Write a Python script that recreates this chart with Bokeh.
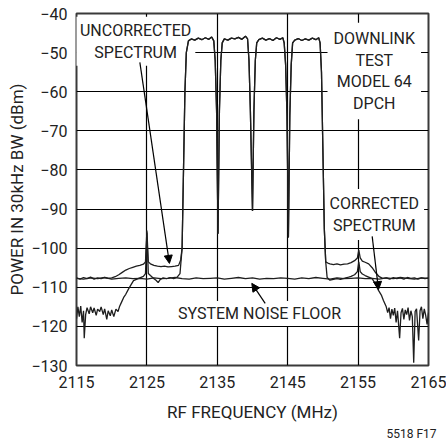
from bokeh.plotting import figure
from bokeh.models import Label, Arrow, NormalHead, Range1d, FixedTicker, Title
from bokeh.embed import file_html
from bokeh.resources import INLINE

FONT = "Roboto"
INK = "#1e1e1e"

# ---- axes / ticks ----
x_ticks = [2115, 2125, 2135, 2145, 2155, 2165]
x_tick_labels = ["2115", "2125", "2135", "2145", "2155", "2165"]
y_ticks = [-130, -120, -110, -100, -90, -80, -70, -60, -50, -40]
y_tick_labels = ["\u2212130", "\u2212120", "\u2212110", "\u2212100", "\u221290",
                 "\u221280", "\u221270", "\u221260", "\u221250", "\u221240"]

# ---- shared 4-carrier WCDMA block (MHz, dBm) ----
carrier_f = [2130.0, 2130.2, 2130.4, 2130.6, 2130.9, 2131.3, 2131.8, 2132.3, 2132.8, 2133.3,
             2133.8, 2134.2, 2134.5, 2134.7, 2134.9, 2135.1, 2135.3, 2135.5, 2135.7, 2136.0,
             2136.5, 2137.0, 2137.5, 2138.0, 2138.5, 2139.0, 2139.3, 2139.5, 2139.7, 2140.0,
             2140.2, 2140.4, 2140.6, 2140.9, 2141.4, 2141.9, 2142.4, 2142.9, 2143.4, 2143.9,
             2144.3, 2144.5, 2144.7, 2144.9, 2145.1, 2145.3, 2145.5, 2145.7, 2146.0, 2146.5,
             2147.0, 2147.5, 2148.0, 2148.5, 2149.0, 2149.4, 2149.6, 2149.8, 2150.0, 2150.2,
             2150.4]
carrier_db = [-100.0, -80.0, -60.0, -50.0, -47.0, -46.5, -46.8, -46.3, -46.7, -46.2,
              -46.6, -46.0, -47.0, -52.0, -65.0, -96.3, -65.0, -52.0, -47.5, -46.5,
              -46.8, -46.3, -46.5, -46.1, -46.6, -45.8, -46.5, -52.0, -65.0, -90.5,
              -65.0, -52.0, -47.5, -46.7, -46.3, -46.8, -46.4, -46.9, -46.2, -46.6,
              -46.2, -47.5, -53.0, -66.0, -97.3, -66.0, -53.0, -47.5, -46.8, -46.4,
              -46.9, -46.5, -46.8, -46.3, -46.7, -46.2, -47.5, -55.0, -75.0, -95.0,
              -103.5]

# ---- uncorrected spectrum ----
unc_left_f = [2115.0, 2115.5, 2116.0, 2116.5, 2117.0, 2117.5, 2118.0, 2118.5, 2119.0, 2119.5,
              2120.0, 2120.5, 2121.0, 2121.5, 2122.0, 2122.5, 2123.0, 2123.5, 2124.0, 2124.5,
              2124.8, 2125.0, 2125.2, 2125.5, 2126.0, 2126.5, 2127.0, 2127.5, 2128.0, 2128.5,
              2129.0, 2129.5, 2129.8]
unc_left_db = [-107.6, -107.9, -107.5, -107.8, -107.4, -107.9, -107.6, -107.8, -107.5, -107.7,
               -107.6, -107.3, -106.8, -106.2, -105.6, -105.2, -104.9, -104.6, -104.4, -104.1,
               -103.5, -95.5, -103.5, -104.0, -104.4, -104.6, -104.7, -104.6, -104.8, -104.7,
               -104.6, -104.4, -103.0]
unc_right_f = [2150.7, 2151.0, 2151.5, 2152.0, 2152.5, 2153.0, 2153.5, 2154.0, 2154.5, 2154.9,
               2155.1, 2155.3, 2155.6, 2156.0, 2156.5, 2157.0, 2157.5, 2158.0, 2158.5, 2159.0,
               2159.5, 2160.0, 2160.5, 2161.0, 2161.5, 2162.0, 2162.5, 2163.0, 2163.5, 2164.0,
               2164.5, 2165.0]
unc_right_db = [-103.8, -104.0, -104.2, -104.0, -104.3, -104.1, -104.0, -103.7, -103.2, -102.5,
                -100.5, -102.5, -103.3, -103.6, -104.0, -105.0, -106.3, -107.3, -107.7, -107.6,
                -107.9, -107.5, -107.8, -107.6, -107.9, -107.5, -107.7, -107.6, -107.9, -107.6,
                -107.8, -107.6]

# ---- corrected spectrum ----
cor_left_f = [2115.0, 2115.2, 2115.4, 2115.6, 2115.8, 2116.0, 2116.1, 2116.3, 2116.5, 2116.8,
              2117.0, 2117.3, 2117.5, 2117.8, 2118.0, 2118.3, 2118.5, 2118.8, 2119.0, 2119.3,
              2119.5, 2119.8, 2120.0, 2120.3, 2120.6, 2120.9, 2121.1, 2121.4, 2121.7, 2122.0,
              2122.4, 2122.8, 2123.1, 2123.5, 2124.0, 2124.5, 2124.8, 2125.0, 2125.2, 2125.5,
              2126.0, 2126.3, 2126.6, 2126.9, 2127.3, 2127.8, 2128.3, 2128.8, 2129.3, 2129.7]
cor_left_db = [-118.0, -115.0, -117.5, -114.8, -119.0, -116.0, -123.0, -117.0, -115.2, -116.8,
               -115.0, -116.5, -115.3, -117.2, -115.6, -116.2, -115.0, -117.0, -115.5, -118.2,
               -116.0, -117.3, -115.8, -117.5, -115.6, -116.2, -115.0, -113.8, -112.6, -111.8,
               -110.4, -109.2, -108.3, -108.0, -107.6, -107.2, -106.5, -96.0, -106.5, -107.0,
               -107.8, -108.2, -108.8, -108.0, -107.6, -107.8, -107.5, -107.8, -107.4, -106.5]
cor_right_f = [2150.6, 2151.0, 2151.5, 2152.0, 2152.5, 2153.0, 2153.5, 2154.0, 2154.5, 2154.9,
               2155.1, 2155.3, 2155.6, 2156.0, 2156.5, 2157.0, 2157.4, 2157.9, 2158.3, 2158.6,
               2159.0, 2159.2, 2159.4, 2159.6, 2159.8, 2160.0, 2160.2, 2160.4, 2160.6, 2160.9,
               2161.1, 2161.3, 2161.5, 2161.7, 2161.9, 2162.1, 2162.3, 2162.5, 2162.7, 2162.9,
               2163.1, 2163.3, 2163.6, 2163.8, 2164.0, 2164.2, 2164.4, 2164.6, 2164.8, 2165.0]
cor_right_db = [-107.5, -108.2, -108.0, -107.8, -108.0, -107.7, -107.5, -107.2, -106.8, -106.0,
                -103.5, -106.0, -106.6, -107.0, -107.4, -107.8, -109.0, -110.8, -112.0, -113.4,
                -115.0, -116.5, -115.2, -118.0, -115.6, -117.2, -115.3, -119.0, -116.0, -123.0,
                -116.5, -115.4, -118.2, -115.8, -117.0, -115.2, -118.5, -116.0, -117.5, -129.3,
                -116.2, -115.5, -123.6, -116.0, -115.0, -118.0, -115.5, -117.2, -119.5, -116.5]

# ---- system noise floor ----
noise_f = [2115, 2116, 2117, 2118, 2119, 2120, 2121, 2122, 2123, 2124,
           2125, 2126, 2127, 2128, 2129, 2130, 2131, 2132, 2133, 2134,
           2135, 2136, 2137, 2138, 2139, 2140, 2141, 2142, 2143, 2144,
           2145, 2146, 2147, 2148, 2149, 2150, 2151, 2152, 2153, 2154,
           2155, 2156, 2157, 2158, 2159, 2160, 2161, 2162, 2163, 2164, 2165]
noise_db = [-107.7, -107.9, -107.6, -107.8, -107.5, -107.9, -107.7, -107.6, -107.8, -107.7,
            -107.9, -107.6, -107.8, -107.7, -107.5, -107.8, -107.9, -107.6, -107.8, -107.7,
            -107.6, -107.9, -107.7, -107.5, -107.8, -107.6, -107.9, -107.7, -107.8, -107.6,
            -107.7, -107.9, -107.6, -107.8, -107.5, -107.7, -107.9, -107.6, -107.8, -107.7,
            -107.6, -107.8, -107.7, -107.9, -107.6, -107.8, -107.5, -107.7, -107.9, -107.6, -107.7]

uncorrected_f = unc_left_f + carrier_f + unc_right_f
uncorrected_db = unc_left_db + carrier_db + unc_right_db
corrected_f = cor_left_f + carrier_f + cor_right_f
corrected_db = cor_left_db + carrier_db + cor_right_db

p = figure(width=446, height=442, output_backend="svg", toolbar_location=None,
           x_range=Range1d(2115, 2165), y_range=Range1d(-130, -40),
           min_border_left=76, min_border_right=18, min_border_top=13, min_border_bottom=77,
           background_fill_color="white", border_fill_color="white")

p.outline_line_color = "#3a3a3a"
p.outline_line_width = 2

for g, t in ((p.xgrid, x_ticks), (p.ygrid, y_ticks)):
    g.ticker = FixedTicker(ticks=t)
    g.grid_line_color = "black"
    g.grid_line_width = 1.2
    g.grid_line_alpha = 1.0

p.xaxis.ticker = FixedTicker(ticks=x_ticks)
p.yaxis.ticker = FixedTicker(ticks=y_ticks)
p.xaxis.major_label_overrides = {t: s for t, s in zip(x_ticks, x_tick_labels)}
p.yaxis.major_label_overrides = {t: s for t, s in zip(y_ticks, y_tick_labels)}
p.xaxis.axis_label = "RF FREQUENCY (MHz)"
p.yaxis.axis_label = "POWER IN 30kHz BW (dBm)"
for ax in (p.xaxis, p.yaxis):
    ax.axis_line_color = None
    ax.major_tick_line_color = None
    ax.minor_tick_line_color = None
    ax.major_tick_out = 0
    ax.major_tick_in = 0
    ax.major_label_text_font = FONT
    ax.major_label_text_font_size = "16px"
    ax.major_label_text_color = "#222222"
    ax.axis_label_text_font = FONT
    ax.axis_label_text_font_size = "17px"
    ax.axis_label_text_font_style = "normal"
    ax.axis_label_text_color = "#222222"
p.xaxis.major_label_standoff = 10
p.xaxis.axis_label_standoff = 11
p.yaxis.major_label_standoff = 9
p.yaxis.axis_label_standoff = 1

p.add_layout(Title(text="5518 F17", align="right", text_font=FONT, text_font_size="12px",
                   text_font_style="normal", text_color="#222222", standoff=0, offset=-8),
             "below")

p.line(noise_f, noise_db, line_color=INK, line_width=1.3)
p.line(corrected_f, corrected_db, line_color=INK, line_width=1.3)
p.line(uncorrected_f, uncorrected_db, line_color=INK, line_width=1.3)

def box_label(x, y, text, pad):
    lab = Label(x=x, y=y, text=text, text_align="center", text_baseline="middle",
                text_font=FONT, text_font_size="16px", text_color="#222222",
                text_line_height=1.15, background_fill_color="white",
                padding=pad, level="underlay")
    p.add_layout(lab)

box_label(2123.4, -47.1, "UNCORRECTED\nSPECTRUM", 4)
box_label(2157.3, -54.7, "DOWNLINK\nTEST\nMODEL 64\nDPCH", 6)
box_label(2157.3, -91.4, "CORRECTED\nSPECTRUM", 5)
box_label(2141.0, -116.7, "SYSTEM NOISE FLOOR", 3)

def arrow(xs, ys, xe, ye):
    p.add_layout(Arrow(x_start=xs, y_start=ys, x_end=xe, y_end=ye, line_color="black",
                       line_width=1.2,
                       end=NormalHead(size=8, fill_color="black", line_color="black")))

arrow(2124.0, -52.5, 2128.2, -103.9)
arrow(2157.0, -97.0, 2157.9, -110.6)
arrow(2141.8, -114.1, 2139.9, -109.0)

open("out.html", "w").write(file_html(p, INLINE))
